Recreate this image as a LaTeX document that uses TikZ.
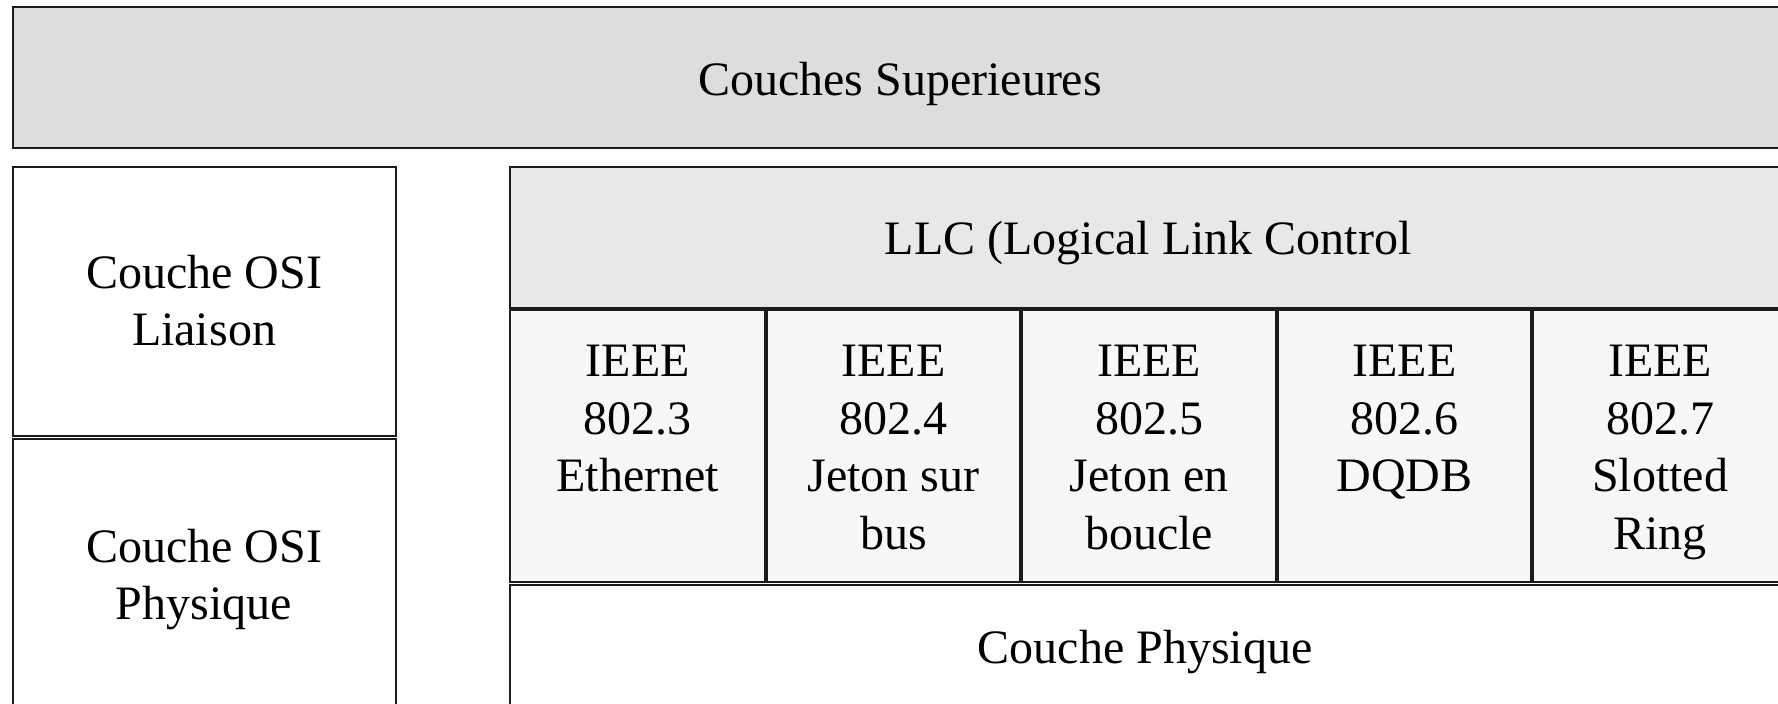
\documentclass[tikz,border=0pt]{standalone}
\usepackage{fontspec}
\setmainfont{Liberation Serif}
\usetikzlibrary{fit}

\definecolor{rule}{HTML}{1C1C1C}
\definecolor{upperfill}{HTML}{DDDDDD}
\definecolor{llcfill}{HTML}{E8E8E8}
\definecolor{ieeefill}{HTML}{F7F7F7}

\tikzset{
  cellbox/.style={draw=rule, line width=2pt, inner sep=0pt, outer sep=0pt},
  label txt/.style={inner sep=0pt, outer sep=0pt, anchor=base,
    font=\fontsize{48pt}{57.5pt}\selectfont},
}

\newcommand{\stacked}[1]{\begin{tabular}[t]{@{}c@{}}#1\end{tabular}}

\begin{document}
\begin{tikzpicture}[x=1pt, y=-1pt]
  % page frame
  \fill[white] (0,0) rectangle (1778,704);
  \useasboundingbox (0,0) rectangle (1778,704);

  % upper layers band
  \node[cellbox, fill=upperfill, fit={(13,6.5) (1787,147.5)}] (upper) {};
  \node[label txt] (uppertxt) at (900,95) {Couches Superieures};

  % OSI reference column
  \node[cellbox, fill=white, fit={(13,167) (395.5,436)}] (osilink) {};
  \node[label txt] (osilinktxt) at (204,288.3) {\stacked{Couche OSI\\Liaison}};
  \node[cellbox, fill=white, fit={(13,438.5) (395.5,730)}] (osiphys) {};
  \node[label txt] (osiphystxt) at (204,562.3) {\stacked{Couche OSI\\Physique}};

  % LLC sublayer
  \node[cellbox, fill=llcfill, fit={(510,167) (1790,307.5)}] (llc) {};
  \node[label txt] (llctxt) at (1148,254.3) {LLC (Logical Link Control};

  % MAC sublayer: IEEE 802.x cells
  \foreach \i/\txt in {0/{IEEE\\802.3\\Ethernet},
                       1/{IEEE\\802.4\\Jeton sur\\bus},
                       2/{IEEE\\802.5\\Jeton en\\boucle},
                       3/{IEEE\\802.6\\DQDB},
                       4/{IEEE\\802.7\\Slotted\\Ring}} {
    \pgfmathsetmacro{\xl}{510+255.6*\i+(\i>0 ? 1 : 0)}
    \pgfmathsetmacro{\xr}{510+255.6*(\i+1)-1}
    \pgfmathsetmacro{\xc}{510+255.6*\i+127.8}
    \node[cellbox, fill=ieeefill, fit={(\xl,310) (\xr,581.5)}] (mac\i) {};
    \node[label txt] (mactxt\i) at (\xc,376.7) {\stacked{\txt}};
  }

  % physical layer
  \node[cellbox, fill=white, fit={(510,584.5) (1790,730)}] (phys) {};
  \node[label txt] (phystxt) at (1145,663.3) {Couche Physique};
\end{tikzpicture}
\end{document}
